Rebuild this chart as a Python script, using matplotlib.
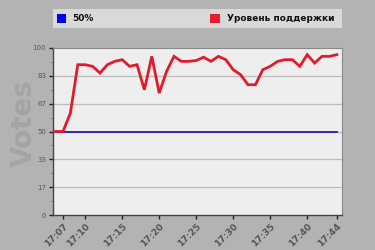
import numpy as np
import matplotlib.pyplot as plt
from matplotlib.patches import Rectangle
from matplotlib.ticker import MultipleLocator

# minutes after 17:00
minutes = list(range(6, 45))
support = [50, 50, 61, 90, 90, 89, 85, 90, 92, 93, 89, 90, 75, 95, 73, 86, 95, 92,
           92, 92.5, 94.5, 92, 95, 93, 87, 84, 78, 78, 87, 89, 92, 93, 93, 89, 96,
           91, 95, 95, 96]
half = [50] * len(minutes)
tick_min = [7, 10, 15, 20, 25, 30, 35, 40, 44]
tick_lab = ['17:07', '17:10', '17:15', '17:20', '17:25', '17:30', '17:35', '17:40', '17:44']
ytick_val = [0, 100 / 6, 200 / 6, 50, 400 / 6, 500 / 6, 100]
ytick_lab = ['0', '17', '33', '50', '67', '83', '100']

fig = plt.figure(figsize=(3.75, 2.5), dpi=100, facecolor='#b3b3b3')
ax = fig.add_axes([53 / 375, 1 - 215 / 250, 289 / 375, 167 / 250])
ax.set_facecolor('#eeeeee')

for y in ytick_val[1:-1]:
    ax.axhline(y, color='#bdbdbd', linewidth=0.9, zorder=1)

ax.plot(minutes, half, color='#2020b0', linewidth=1.3, zorder=2)
ax.plot(minutes, support, color='#e01c2c', linewidth=2.0, zorder=3,
        solid_joinstyle='miter')

ax.set_xlim(5.65, 44.7)
ax.set_ylim(0, 100)
ax.set_xticks(tick_min)
ax.set_xticklabels(tick_lab, rotation=45, ha='right', rotation_mode='anchor',
                   fontsize=6.5, color='#555555', fontweight='bold')
ax.set_yticks(ytick_val)
ax.set_yticklabels(ytick_lab, fontsize=5, color='#555555')
ax.yaxis.set_minor_locator(MultipleLocator(100 / 12))
ax.tick_params(axis='both', which='major', length=3, width=1, color='#222222', pad=2)
ax.tick_params(axis='y', which='minor', length=2, width=0.5, color='#777777')
for s in ['left', 'bottom']:
    ax.spines[s].set_color('#444444')
    ax.spines[s].set_linewidth(1.0)
for s in ['top', 'right']:
    ax.spines[s].set_color('#888888')
    ax.spines[s].set_linewidth(0.8)

ax.set_ylabel('Votes', fontsize=20, fontweight='bold', color='#a4a4a4',
              va='center')
ax.yaxis.set_label_coords((24 - 53) / 289, (215 - 123) / 167)

# legend band at the top
fig.patches.append(Rectangle((53 / 375, 1 - 28 / 250), 289 / 375, 19 / 250,
                             transform=fig.transFigure, facecolor='#d9d9d9',
                             edgecolor='none'))
fig.patches.append(Rectangle((57 / 375, 1 - 23 / 250), 9 / 375, 9 / 250,
                             transform=fig.transFigure, facecolor='#0000ee',
                             edgecolor='none'))
fig.patches.append(Rectangle((210 / 375, 1 - 23 / 250), 10 / 375, 9 / 250,
                             transform=fig.transFigure, facecolor='#e61e2a',
                             edgecolor='none'))
fig.text(72 / 375, 1 - 18.5 / 250, '50%', fontsize=6.5, fontweight='bold',
         va='center', color='#111111')
fig.text(227 / 375, 1 - 18.5 / 250, 'Уровень поддержки', fontsize=6.5,
         fontweight='bold', va='center', color='#111111')

fig.savefig('out.png', dpi=100, facecolor=fig.get_facecolor())
